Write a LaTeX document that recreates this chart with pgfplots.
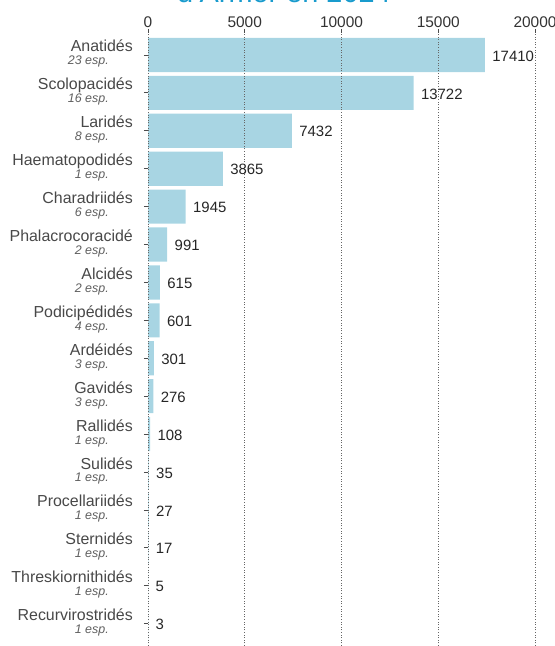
\documentclass[border=0pt]{standalone}
\usepackage{fontspec}
\setmainfont{Liberation Sans}
\usepackage{pgfplots}
\usepackage{pgfplotstable}
\pgfplotsset{compat=1.18}

\definecolor{barblue}{RGB}{168,213,227}
\definecolor{titleblue}{RGB}{25,155,205}
\definecolor{labgray}{RGB}{72,72,72}
\definecolor{espgray}{RGB}{95,95,95}

% label of one family: name, then number of species in italics
\newcommand{\lab}[2]{\fontsize{16}{16}\selectfont\begin{tabular}{@{}r@{}}{\color{labgray}#1}\\[-3bp]{\fontsize{12.5}{12.5}\selectfont\itshape\color{espgray}#2\hspace*{24bp}}\end{tabular}}

\pgfplotstableread{
y val
15 17410
14 13722
13 7432
12 3865
11 1945
10 991
9 615
8 601
7 301
6 276
5 108
4 35
3 27
2 17
1 5
0 3
}\familles

\begin{document}
\begin{tikzpicture}
\useasboundingbox (0,0) rectangle (555bp,646bp);
\node[anchor=base, text=titleblue, font=\fontsize{29}{29}\selectfont] at (284bp,643bp) {d'Armor en 2024};
\begin{axis}[
    at={(148bp,0bp)}, anchor=south west,
    scale only axis,
    width=387bp, height=613bp,
    xbar, bar width=0.9, bar shift=0pt,
    xmin=0, xmax=20000,
    ymin=-0.59, ymax=15.58,
    axis line style={draw=none},
    axis on top,
    clip=false,
    xtick={0,5000,10000,15000,20000},
    scaled x ticks=false,
    xtick pos=right, xticklabel pos=right,
    xticklabel style={font=\fontsize{15.5}{15.5}\selectfont, text=black!80, yshift=-2.5bp},
    /pgf/number format/1000 sep={},
    /pgf/number format/assume math mode=true,
    xmajorgrids,
    grid style={dash pattern=on 1bp off 1.6bp, line width=0.9bp, black!60},
    ytick={0,...,15},
    ytick pos=left,
    yticklabels={
      {\lab{Recurvirostridés}{1 esp.}},
      {\lab{Threskiornithidés}{1 esp.}},
      {\lab{Sternidés}{1 esp.}},
      {\lab{Procellariidés}{1 esp.}},
      {\lab{Sulidés}{1 esp.}},
      {\lab{Rallidés}{1 esp.}},
      {\lab{Gavidés}{3 esp.}},
      {\lab{Ardéidés}{3 esp.}},
      {\lab{Podicipédidés}{4 esp.}},
      {\lab{Alcidés}{2 esp.}},
      {\lab{Phalacrocoracidé}{2 esp.}},
      {\lab{Charadriidés}{6 esp.}},
      {\lab{Haematopodidés}{1 esp.}},
      {\lab{Laridés}{8 esp.}},
      {\lab{Scolopacidés}{16 esp.}},
      {\lab{Anatidés}{23 esp.}},
    },
    yticklabel style={inner sep=0pt, xshift=-11bp},
    tick align=outside,
    major tick length=4bp,
    tick style={black!70, line width=0.8bp},
    nodes near coords={\pgfmathprintnumber[fixed,precision=0,1000 sep={},assume math mode=true]{\pgfplotspointmeta}},
    point meta=x,
    every node near coord/.append style={anchor=west, xshift=4bp, yshift=-1bp,
      font=\fontsize{15}{15}\selectfont, text=black!85},
]
\addplot[fill=barblue, draw=none] table[x=val, y=y] {\familles};
\end{axis}
\end{tikzpicture}
\end{document}
